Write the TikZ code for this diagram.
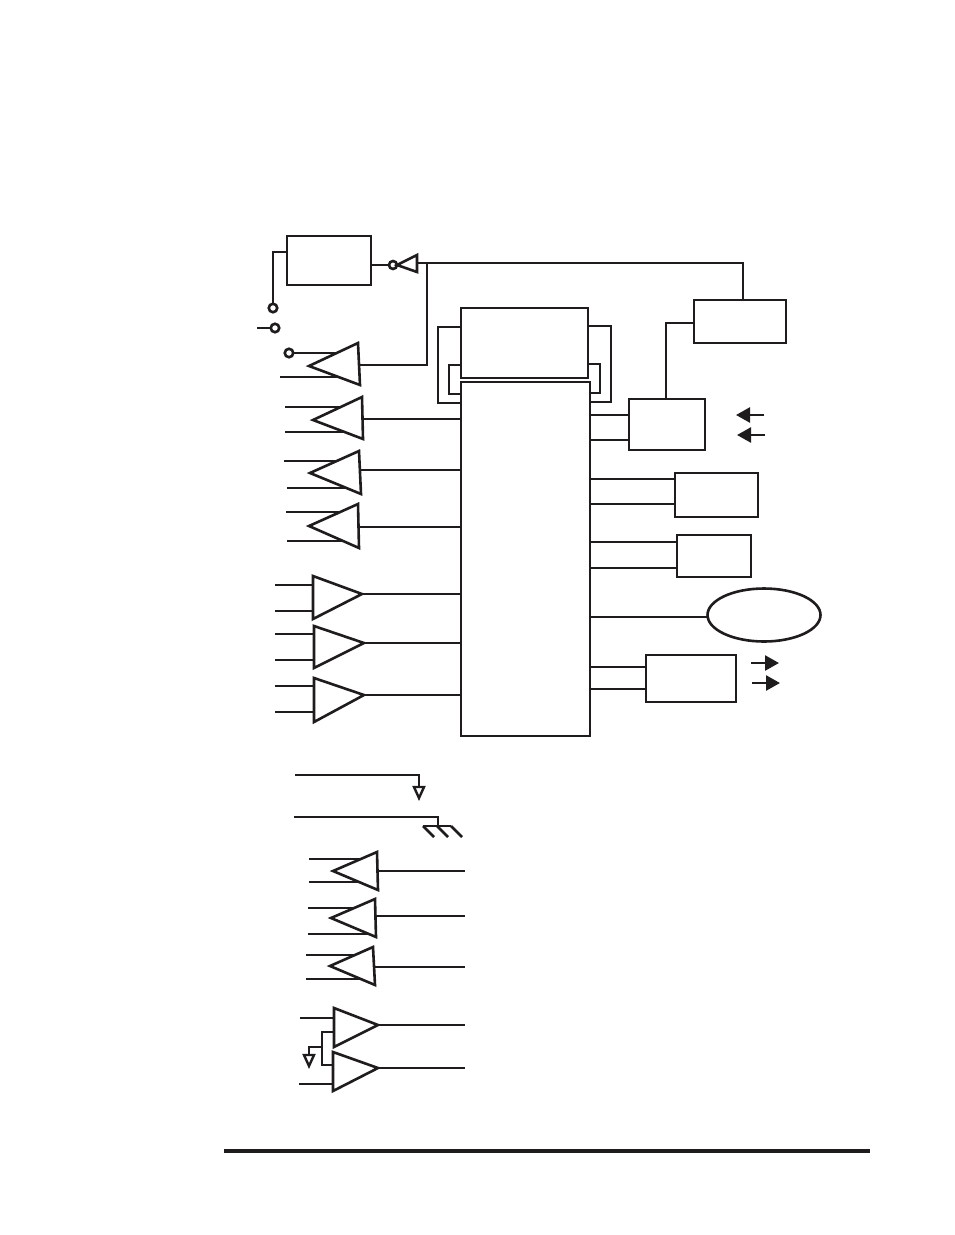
\documentclass[tikz,border=0pt]{standalone}
\usepackage{tikz}
\usetikzlibrary{arrows.meta,shapes.geometric,calc}
\definecolor{cink}{RGB}{30,28,28}
\tikzset{
  blk/.style={draw=cink,fill=white,line width=2.8pt,inner sep=0pt,outer sep=0pt,anchor=north west},
  term/.style={draw=cink,fill=white,circle,line width=2.6pt,inner sep=0pt,minimum size=8.5pt,outer sep=0pt},
  wire/.style={draw=cink,line width=2.6pt},
  flow/.style={draw=cink,fill=cink,line width=2.6pt,-{Triangle[length=14pt,width=15pt]}},
}
\begin{document}
\begin{tikzpicture}[x=1pt,y=-1pt]
\useasboundingbox (0,0) rectangle (954,1235);
% ===================== boxes =====================
\node[blk,minimum width=84pt,minimum height=49pt] (osc) at (287,236) {};
\node[blk,minimum width=92pt,minimum height=43pt] (ctl) at (694,300) {};
\node[blk,minimum width=76pt,minimum height=51pt] (conv) at (629,399) {};
\node[blk,minimum width=83pt,minimum height=44pt] (regA) at (675,473) {};
\node[blk,minimum width=74pt,minimum height=42pt] (regB) at (677,535) {};
\node[blk,minimum width=90pt,minimum height=47pt] (drv) at (646,655) {};
\node[draw=cink,fill=white,ellipse,line width=2.6pt,minimum width=113pt,minimum height=53pt,inner sep=0pt,outer sep=0pt] (disp) at (764,615) {};
% brackets behind the two centre blocks
\coordinate (outerL) at (438,327);
\coordinate (outerLb) at (438,403);
\coordinate (outerR) at (611,326);
\coordinate (outerRb) at (611,402);
\coordinate (innerL) at (449,365);
\coordinate (innerLb) at (449,394);
\coordinate (innerR) at (600,364);
\coordinate (innerRb) at (600,393);
\draw[wire] (470,327) -- (outerL) -- (outerLb) -- (470,403);
\draw[wire] (580,326) -- (outerR) -- (outerRb) -- (580,402);
\draw[wire] (470,365) -- (innerL) -- (innerLb) -- (470,394);
\draw[wire] (580,364) -- (innerR) -- (innerRb) -- (580,393);
\node[blk,minimum width=127pt,minimum height=70pt] (mem) at (461,308) {};
\node[blk,minimum width=129pt,minimum height=354pt] (main) at (461,382) {};
% ===================== amplifiers =====================
\coordinate (bus) at (465,800);
\foreach \n/\tx/\ty/\ax/\ay/\bx/\by/\ox/\oy/\ix/\iy/\jx/\jy/\t in {
  a2/313/420/362/397/363/439/363/419/285/407/285/432/main.west,
  a3/310/473/359/451/361/494/361/470/284/461/287/488/main.west,
  a4/309/526/358/504/359/548/359/527/286/512/287/541/main.west,
  a5/362/594/313/576/313/619/362/594/275/585/275/611/main.west,
  a6/364/643/314/626/314/668/364/643/275/634/275/660/main.west,
  a7/364/695/314/678/314/722/364/695/275/686/275/712/main.west,
  a8/333/871/377/852/378/890/378/871/309/859/309/882/bus,
  a9/331/918/375/899/376/937/376/916/308/908/308/934/bus,
  a10/330/966/373/947/375/985/375/967/306/955/306/979/bus}{
  \coordinate (\n-i) at (\ix,\iy);
  \coordinate (\n-j) at (\jx,\jy);
  \coordinate (\n-o) at (\ox,\oy);
  \draw[wire] (\n-i) -- (\n-i -| \ax,0);
  \draw[wire] (\n-j) -- (\n-j -| \ax,0);
  \draw[wire] (\n-o) -- (\t |- \n-o);
  \draw[wire,fill=white] (\tx,\ty) -- (\ax,\ay) -- (\bx,\by) -- cycle;
}
% first amplifier, fed from the switch contact
\node[term] (sw3) at (289,353) {};
\coordinate (a1-j) at (280,377);
\coordinate (a1-o) at (359,365);
\coordinate (fb) at (427,263);
\draw[wire] (sw3) -- (340,353);
\draw[wire] (a1-j) -- (340,377);
\draw[wire] (a1-o) -- (a1-o -| fb) -- (fb);
\draw[wire,fill=white] (309,366) -- (358,343) -- (360,385) -- cycle;
% paired amplifiers at the bottom
\foreach \n/\tx/\ty/\ax/\ay/\by/\ix/\iy in {
  a11/378/1025/334/1008/1047/300/1018,
  a12/378/1068/333/1052/1091/299/1084}{
  \coordinate (\n-i) at (\ix,\iy);
  \coordinate (\n-o) at (\tx,\ty);
  \draw[wire] (\n-i) -- (\n-i -| \ax,0);
  \draw[wire] (\n-o) -- (bus |- \n-o);
  \draw[wire,fill=white] (\tx,\ty) -- (\ax,\ay) -- (\ax,\by) -- cycle;
}
\coordinate (refT) at (334,1032);
\coordinate (refB) at (333,1065);
\coordinate (refM) at (322,1047);
\coordinate (refG) at (309,1055);
\draw[wire] (refT) -- (refT -| refM) -- (refB -| refM) -- (refB);
\draw[wire] (refM) -| (refG);
\draw[wire,fill=white,line width=2.4pt] (304,1055) -- (314,1055) -- (309,1066) -- cycle;
% ===================== top left =====================
\node[term] (sw1) at (273,308) {};
\node[term] (sw2) at (275,328) {};
\coordinate (sw2in) at (257,328);
\draw[wire] (osc.west |- 0,252) -| (sw1);
\draw[wire] (sw2in) -- (sw2);
\node[term,minimum size=8pt] (bub) at (393,265) {};
\draw[wire] (osc.east |- bub) -- (bub);
\draw[wire,fill=white] (bub.east) -- (417,255) -- (417,272) -- cycle;
\coordinate (invB) at (417,263);
\coordinate (ctlT) at (743,300);
\draw[wire] (invB) -| (ctlT);
% ===================== right side =====================
\coordinate (ctlW) at (694,323);
\coordinate (convT) at (666,399);
\draw[wire] (ctlW) -| (convT);
\foreach \s/\y in {conv/415,conv/440,regA/479,regA/504,regB/542,regB/568,drv/667,drv/689}{
  \draw[wire] (main.east |- 0,\y) -- (\s.west |- 0,\y);
}
\draw[wire] (main.east |- 0,617) -- (disp.west |- 0,617);
% signal arrows
\coordinate (inA) at (764,415);
\coordinate (inAe) at (736,415);
\coordinate (inB) at (765,435);
\coordinate (inBe) at (737,435);
\coordinate (outA) at (751,663);
\coordinate (outAe) at (779,663);
\coordinate (outB) at (752,683);
\coordinate (outBe) at (780,683);
\draw[flow] (inA) -- (inAe);
\draw[flow] (inB) -- (inBe);
\draw[flow] (outA) -- (outAe);
\draw[flow] (outB) -- (outBe);
% ===================== supply and ground =====================
\coordinate (vs) at (295,775);
\coordinate (vsE) at (419,787);
\draw[wire] (vs) -| (vsE);
\draw[wire,fill=white,line width=2.4pt] (414,787) -- (424,787) -- (419,798) -- cycle;
\coordinate (gnd) at (294,817);
\coordinate (gndE) at (438,826);
\draw[wire] (gnd) -| (gndE);
\draw[wire] (423,826) -- (451,826);
\foreach \x in {423,437,451}{
  \draw[wire] (\x,826) -- ++(11,11);
}
% ===================== rule =====================
\draw[cink,line width=4pt] (224,1151) -- (870,1151);
\end{tikzpicture}
\end{document}
